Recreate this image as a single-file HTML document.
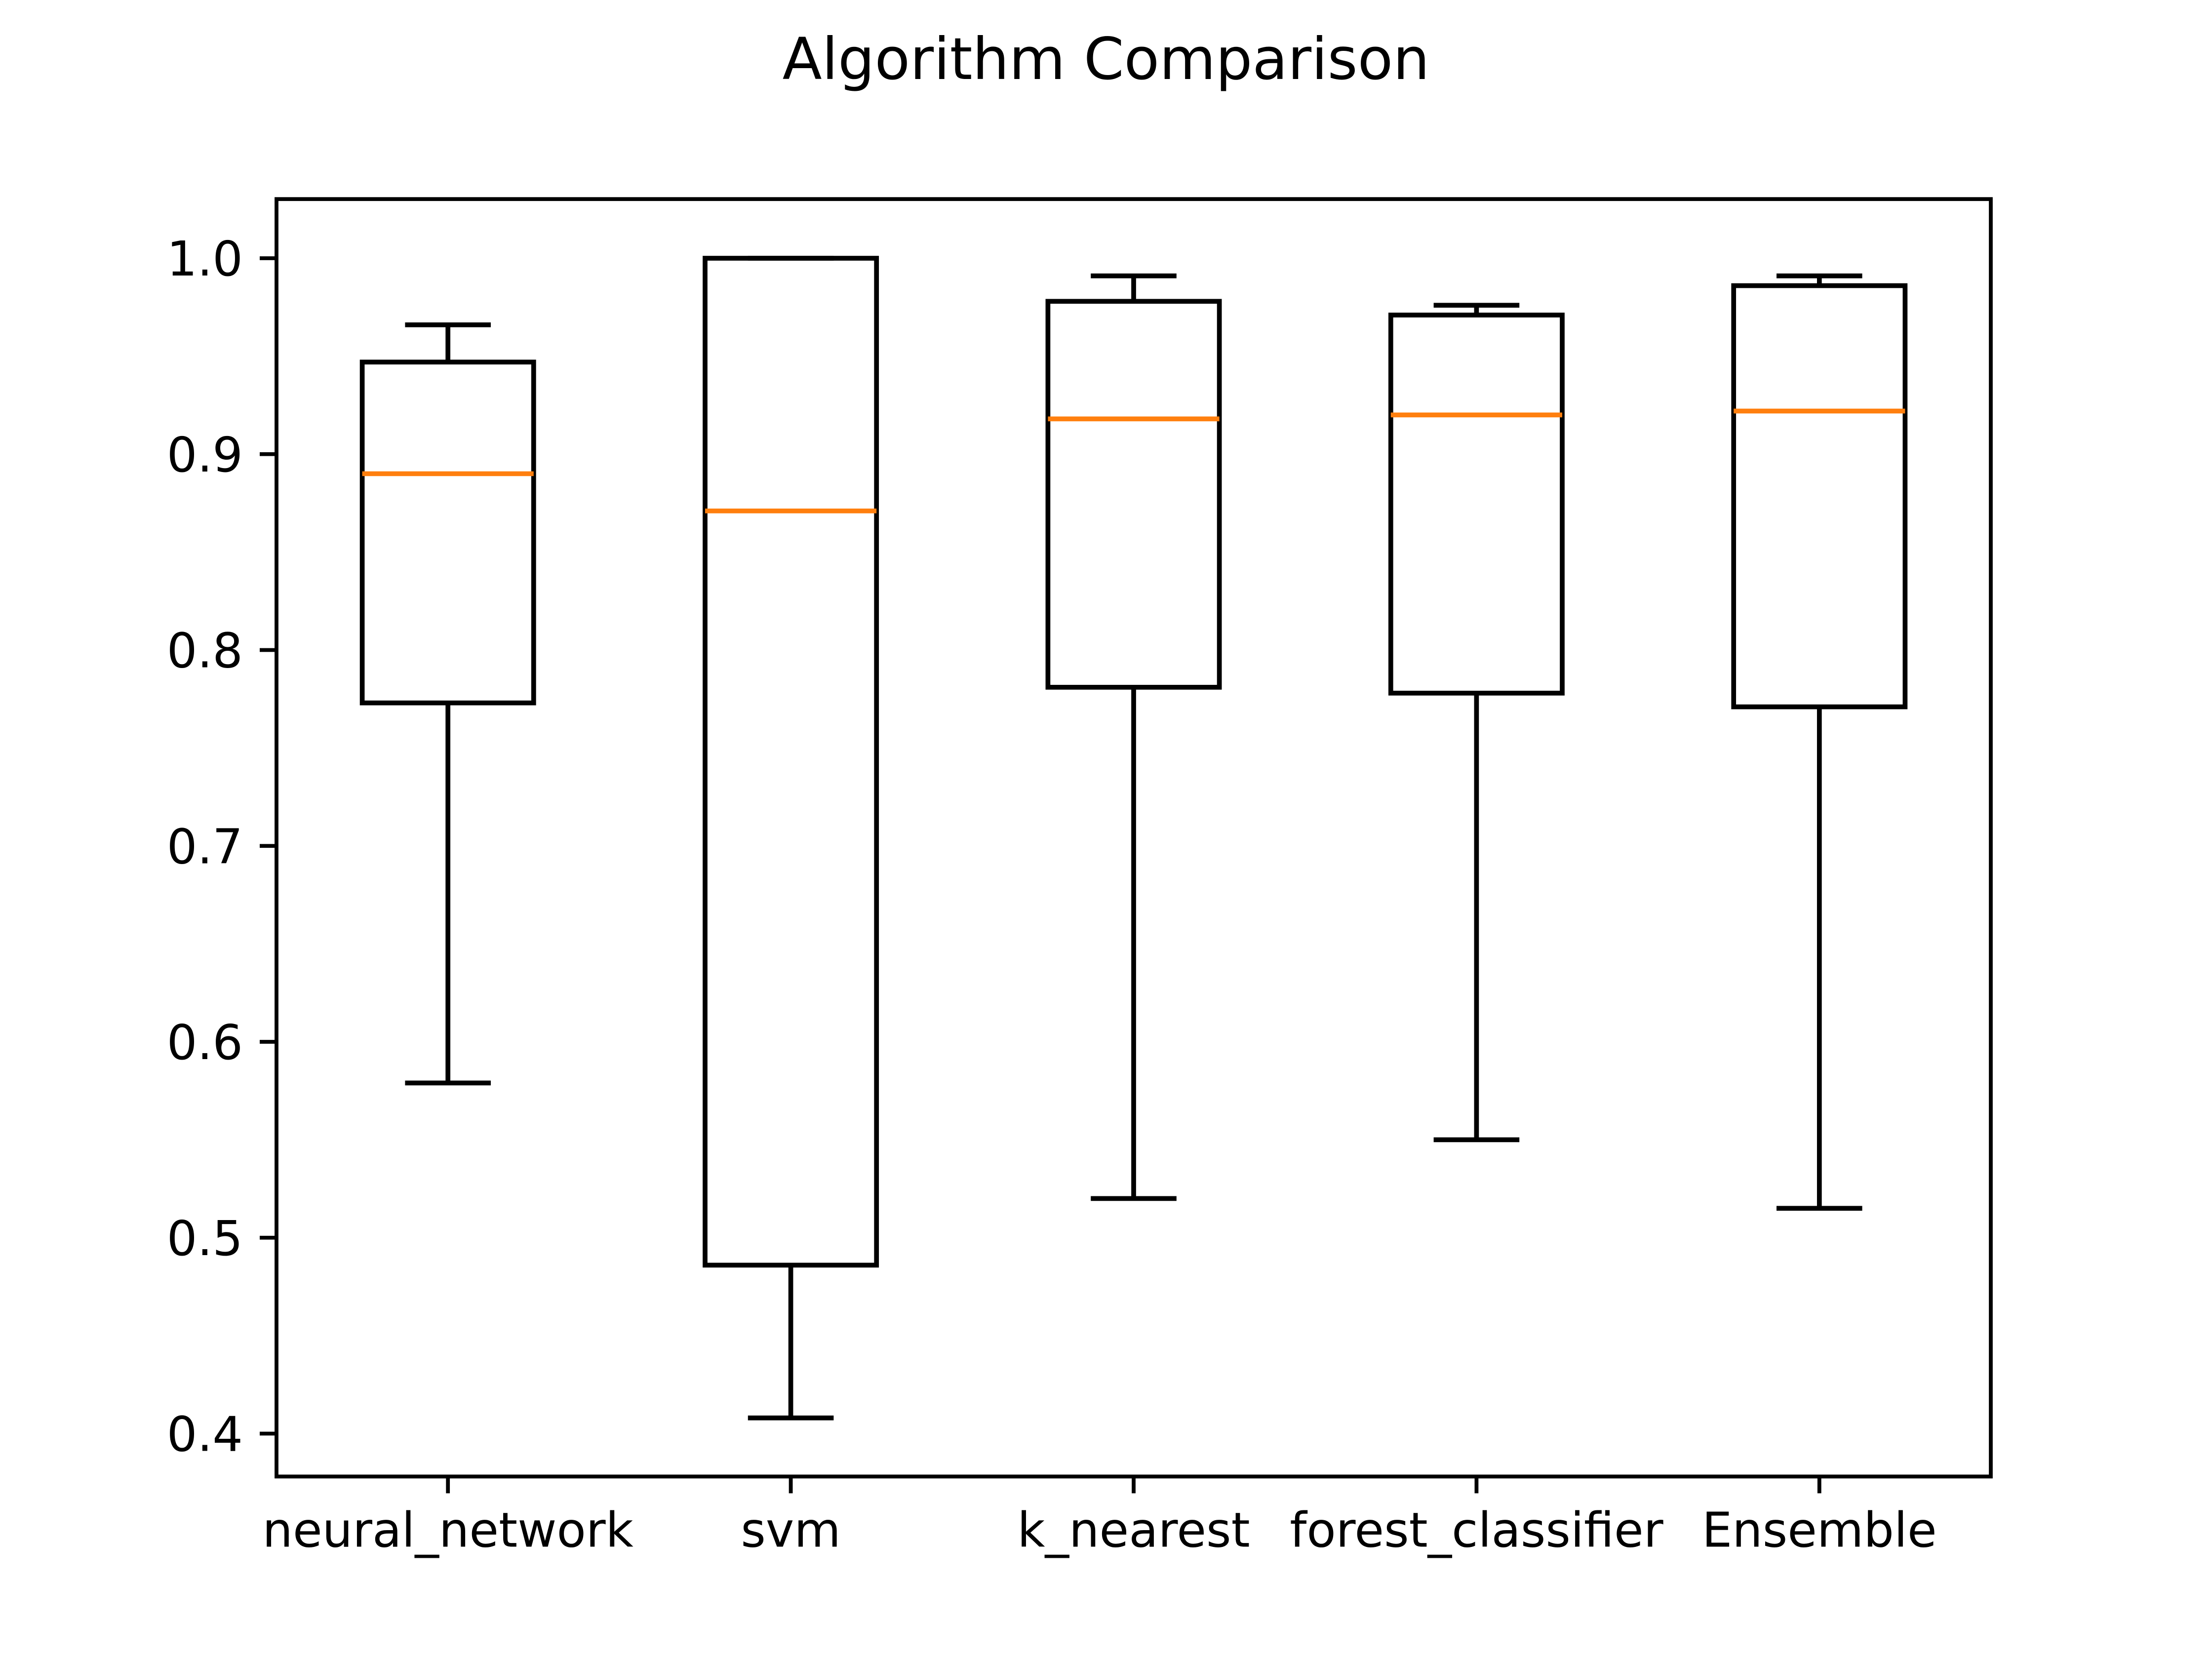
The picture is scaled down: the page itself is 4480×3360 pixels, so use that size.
<!DOCTYPE html>
<html><head><meta charset="utf-8"><style>html,body{margin:0;padding:0;background:#fff}svg{display:block}</style></head>
<body>
<svg id="chart" width="4480" height="3360" viewBox="0 0 4480 3360" xmlns="http://www.w3.org/2000/svg" font-family="DejaVu Sans, Liberation Sans, sans-serif">
<rect x="0" y="0" width="4480" height="3360" fill="#fff"/>
<text x="2240" y="160" text-anchor="middle" font-size="117" fill="#000">Algorithm Comparison</text>
<g id="plot"></g>
<rect x="560" y="403.2" width="3472" height="2587.2" fill="none" stroke="#000" stroke-width="7.8"/>
</svg>
<script>
const categories = ["neural_network","svm","k_nearest","forest_classifier","Ensemble"];
const whiskerLow = [0.579,0.408,0.520,0.550,0.515];
const q1 = [0.773,0.486,0.781,0.778,0.771];
const medians = [0.890,0.871,0.918,0.920,0.922];
const q3 = [0.947,1.000,0.978,0.971,0.986];
const whiskerHigh = [0.966,1.000,0.991,0.976,0.991];
const yTicks = [0.4,0.5,0.6,0.7,0.8,0.9,1.0];
const yTickLabels = ["0.4","0.5","0.6","0.7","0.8","0.9","1.0"];

const L=560,R=4032,T=403.2,B=2990.4;
const yMin=0.3781,yMax=1.0302;
const xMin=0.5,xMax=categories.length+0.5;
const X=v=>L+(v-xMin)/(xMax-xMin)*(R-L);
const Y=v=>B-(v-yMin)/(yMax-yMin)*(B-T);
const NS="http://www.w3.org/2000/svg";
const g=document.getElementById('plot');
function mk(tag,attrs,name){const e=document.createElementNS(NS,tag);for(const k in attrs)e.setAttribute(k,attrs[k]);


g.appendChild(e);return e;}
const lw=9.72;
yTicks.forEach((t,i)=>{
  mk('line',{x1:L-34,x2:L,y1:Y(t),y2:Y(t),stroke:'#000','stroke-width':7.8},'y-tick');
  const tx=mk('text',{x:L-68,y:Y(t)+35,'text-anchor':'end','font-size':97,fill:'#000'},'y-tick-label');
  tx.textContent=yTickLabels[i];
});
categories.forEach((c,i)=>{
  const x=X(i+1);
  mk('line',{x1:x,x2:x,y1:B,y2:B+34,stroke:'#000','stroke-width':7.8},'x-tick');
  const tx=mk('text',{x:x,y:B+68+74,'text-anchor':'middle','font-size':97,fill:'#000'},'x-tick-label');
  tx.textContent=c;
  const hw=X(1.25)-X(1), cw=X(1.125)-X(1);
  mk('line',{x1:x,x2:x,y1:Y(q1[i]),y2:Y(whiskerLow[i]),stroke:'#000','stroke-width':lw},'lower-whisker');
  mk('line',{x1:x,x2:x,y1:Y(q3[i]),y2:Y(whiskerHigh[i]),stroke:'#000','stroke-width':lw},'upper-whisker');
  mk('line',{x1:x-cw,x2:x+cw,y1:Y(whiskerLow[i]),y2:Y(whiskerLow[i]),stroke:'#000','stroke-width':lw},'lower-cap');
  mk('line',{x1:x-cw,x2:x+cw,y1:Y(whiskerHigh[i]),y2:Y(whiskerHigh[i]),stroke:'#000','stroke-width':lw},'upper-cap');
  mk('rect',{x:x-hw,y:Y(q3[i]),width:2*hw,height:Y(q1[i])-Y(q3[i]),fill:'none',stroke:'#000','stroke-width':lw},'box');
  mk('line',{x1:x-hw,x2:x+hw,y1:Y(medians[i]),y2:Y(medians[i]),stroke:'#ff7f0e','stroke-width':lw},'median-line');
});
</script>
</body></html>
